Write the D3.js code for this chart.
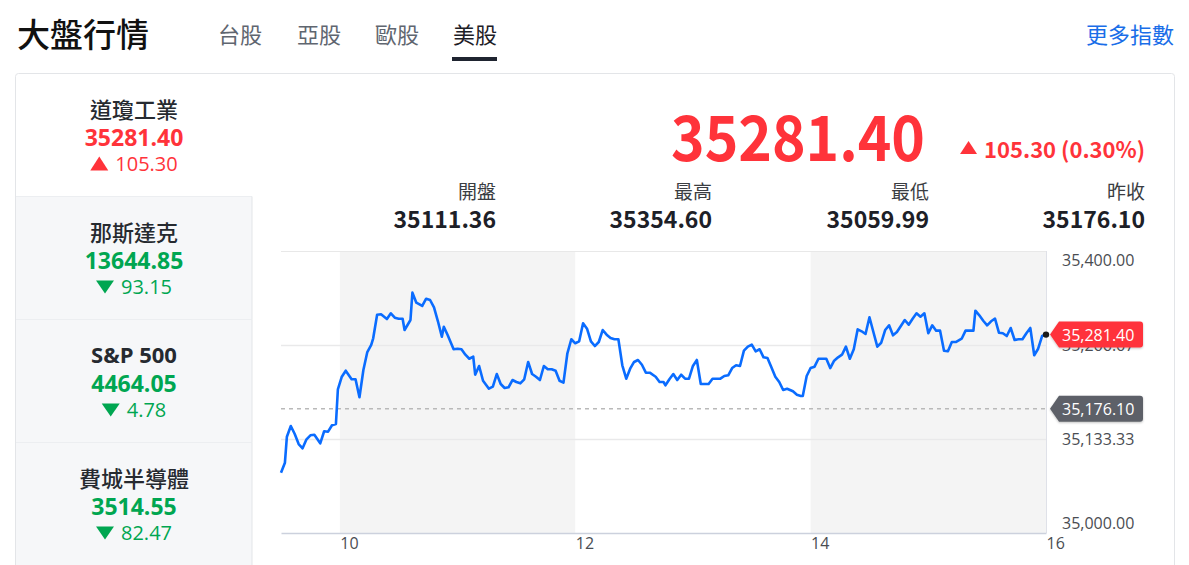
<!DOCTYPE html>
<html><head><meta charset="utf-8">
<script src="https://cdn.jsdelivr.net/npm/d3@7"></script>
<style>
html,body{margin:0;padding:0;background:#fff;}
svg{display:block;}
</style></head>
<body><svg id="c" width="1189" height="565"></svg>
<script>
// ---------- data ----------
const tabs = ["台股", "亞股", "歐股", "美股"];
const activeTab = "美股";
const indexNames = ["道瓊工業", "那斯達克", "S&P 500", "費城半導體"];
const indexValues = ["35281.40", "13644.85", "4464.05", "3514.55"];
const indexChanges = ["105.30", "93.15", "4.78", "82.47"];
const indexUp = [true, false, false, false];
const lastPrice = 35281.40;
const changeText = "105.30 (0.30%)";
const statLabels = ["開盤", "最高", "最低", "昨收"];
const statValues = ["35111.36", "35354.60", "35059.99", "35176.10"];
const prevClose = 35176.10;
const yTicks = [35000, 35133.33, 35266.67, 35400];
const xTickHours = [10, 12, 14, 16];
const bandHours = [[10, 12], [14, 16]];
// minutes after 09:30
const minutes = [0,2,3,5,7,9,11,13,15,17,20,22,24,26,28,29,31,33,36,38,40,42,44,46,47,49,51,54,56,58,60,62,63,66,67,69,72,74,76,78,80,82,83,85,88,90,92,94,96,98,
99,101,103,106,108,110,112,114,116,118,120,122,124,126,128,130,132,134,136,138,140,142,144,146,148,150,152,154,156,158,160,162,164,166,168,170,172,174,176,178,180,182,184,186,188,191,193,195,
196,198,200,202,204,206,208,210,212,214,216,218,220,222,224,226,228,230,232,234,236,238,240,242,244,246,248,250,252,254,256,258,261,263,265,266,268,270,272,274,276,278,280,282,284,286,288,
290,292,294,296,298,300,302,304,306,308,310,312,314,316,318,320,322,324,326,328,330,332,334,336,338,340,342,344,347,349,351,353,354,356,358,360,362,364,366,368,370,372,374,376,378,380,382,384,386,388,390];
const prices = [35085.5,35099.7,35136.6,35151.8,35140.4,35126.2,35120.1,35132.9,35138.6,35139.4,35127.2,35144.3,35143.7,35152.8,35154.6,35203.8,35221.7,35230.2,35218.0,35218.0,35192.5,35231.2,35256.7,35266.7,35276.2,35309.6,35310.2,35303.5,35311.6,35305.4,35304.0,35304.0,35287.9,35302.1,35340.9,35326.7,35322.0,35332.3,35330.5,35320.1,35300.3,35278.4,35292.6,35280.4,35260.6,35261.4,35260.6,35252.9,35247.2,35250.1,
35224.5,35236.9,35216.0,35204.7,35207.5,35225.5,35211.3,35205.7,35206.7,35217.0,35214.2,35212.3,35218.0,35242.6,35225.5,35221.7,35217.0,35236.9,35232.2,35232.2,35230.2,35216.0,35213.2,35254.9,35274.8,35269.1,35271.9,35297.4,35289.8,35271.9,35265.2,35270.9,35287.9,35281.3,35276.6,35274.8,35274.8,35237.9,35218.9,35233.1,35242.6,35245.4,35238.7,35227.4,35227.4,35221.7,35214.2,35214.2,
35209.5,35218.0,35225.5,35217.0,35224.5,35218.9,35218.9,35236.9,35245.4,35211.3,35211.3,35211.3,35218.9,35218.9,35218.9,35222.7,35223.7,35234.0,35237.9,35236.9,35258.6,35264.3,35267.1,35257.7,35260.6,35249.2,35248.2,35235.0,35221.7,35214.2,35202.8,35204.7,35201.0,35196.2,35194.3,35194.3,35222.7,35234.0,35235.9,35247.2,35247.2,35247.2,35234.0,35244.4,35249.2,35252.9,35264.3,
35247.2,35260.6,35288.9,35286.1,35282.3,35306.0,35285.1,35264.3,35269.9,35287.9,35294.6,35280.4,35285.1,35293.6,35302.1,35295.5,35304.0,35311.6,35306.8,35311.6,35283.3,35294.6,35287.0,35287.0,35258.6,35257.7,35270.9,35270.9,35275.6,35287.0,35287.0,35287.0,35315.3,35308.8,35301.1,35294.6,35300.3,35304.0,35284.1,35283.3,35279.4,35290.8,35273.8,35274.8,35274.8,35283.3,35290.8,35252.1,35261.4,35279.4,35281.4];

// ---------- styles ----------
const CJK = "'Noto Sans CJK TC','Noto Sans',sans-serif";
const LAT = "'Open Sans','Noto Sans',sans-serif";
const RED = "#ff333a", GREEN = "#00a651", BLUE = "#0a6cff";

const svg = d3.select("#c");

// ---------- header ----------
svg.append("text").attr("x", 17).attr("y", 33).attr("dominant-baseline", "central")
  .style("font-family", CJK).style("font-size", "33px").style("font-weight", 500).attr("fill", "#111")
  .text("大盤行情");
const tabX = [218, 297, 375, 453];
tabs.forEach((t, i) => {
  svg.append("text").attr("x", tabX[i]).attr("y", 33).attr("dominant-baseline", "central")
    .style("font-family", CJK).style("font-size", "22px")
    .attr("fill", t === activeTab ? "#1d2027" : "#5f6670").text(t);
  if (t === activeTab) svg.append("rect").attr("x", tabX[i] - 1).attr("y", 57).attr("width", 45).attr("height", 4).attr("fill", "#1f2430");
});
svg.append("text").attr("x", 1174).attr("y", 33).attr("dominant-baseline", "central").attr("text-anchor", "end")
  .style("font-family", CJK).style("font-size", "22px").attr("fill", "#1a6ee8").text("更多指數");

// card
svg.append("rect").attr("x", 15.5).attr("y", 73.5).attr("width", 1159).attr("height", 520).attr("rx", 3)
  .attr("fill", "#fff").attr("stroke", "#e3e5e8");

// ---------- left list ----------
const itemH = 123, itemTop = 73.5;
indexNames.forEach((n, i) => {
  const y0 = itemTop + i * itemH;
  const g = svg.append("g");
  if (i > 0) {
    g.append("rect").attr("x", 16).attr("y", y0).attr("width", 236).attr("height", itemH).attr("fill", "#f6f7f9");
    g.append("line").attr("x1", 252).attr("x2", 252).attr("y1", y0).attr("y2", y0 + itemH).attr("stroke", "#e3e5e8");
  }
  g.append("line").attr("x1", 16).attr("x2", 252).attr("y1", y0 + itemH).attr("y2", y0 + itemH).attr("stroke", "#e3e5e8");
  const col = indexUp[i] ? RED : GREEN;
  g.append("text").attr("x", 134).attr("y", y0 + 34).attr("text-anchor", "middle").attr("dominant-baseline", "central")
    .style("font-family", i === 2 ? LAT : CJK).style("font-size", "22px").style("font-weight", i === 2 ? 700 : 500)
    .attr("fill", "#262a30").text(n);
  g.append("text").attr("x", 134).attr("y", y0 + 63).attr("text-anchor", "middle").attr("dominant-baseline", "central")
    .style("font-family", LAT).style("font-size", "23px").style("font-weight", 700).attr("fill", col).text(indexValues[i]);
  const ct = g.append("text").attr("y", y0 + 90).attr("dominant-baseline", "central")
    .style("font-family", LAT).style("font-size", "20px").attr("fill", col).text(indexChanges[i]);
  const w = ct.node().getComputedTextLength();
  const triW = 18, gap = 7;
  const start = 134 - (triW + gap + w) / 2;
  ct.attr("x", start + triW + gap);
  const cy = y0 + 90;
  const tri = indexUp[i]
    ? [[start, cy + 7], [start + triW, cy + 7], [start + triW / 2, cy - 7]]
    : [[start, cy - 6], [start + triW, cy - 6], [start + triW / 2, cy + 7]];
  g.append("path").attr("d", d3.line()(tri) + "Z").attr("fill", col);
});

// ---------- price header ----------
svg.append("text").attr("x", 925).attr("y", 133).attr("text-anchor", "end").attr("dominant-baseline", "central")
  .style("font-family", CJK).style("font-size", "63px").style("font-weight", 700).attr("fill", RED)
  .attr("textLength", 254).attr("lengthAdjust", "spacingAndGlyphs")
  .text(lastPrice.toFixed(2));
const chg = svg.append("text").attr("x", 1145).attr("y", 148).attr("text-anchor", "end").attr("dominant-baseline", "central")
  .style("font-family", CJK).style("font-size", "22px").style("font-weight", 700).attr("fill", RED).text(changeText);
const cw = chg.node().getComputedTextLength();
const tx = 1145 - cw - 24;
svg.append("path").attr("d", d3.line()([[tx, 154], [tx + 17, 154], [tx + 8.5, 141]]) + "Z").attr("fill", RED);

const statX = [496, 712, 929, 1145];
statLabels.forEach((l, i) => {
  svg.append("text").attr("x", statX[i]).attr("y", 190).attr("text-anchor", "end").attr("dominant-baseline", "central")
    .style("font-family", CJK).style("font-size", "19px").attr("fill", "#3a3d42").text(l);
  svg.append("text").attr("x", statX[i]).attr("y", 218).attr("text-anchor", "end").attr("dominant-baseline", "central")
    .style("font-family", CJK).style("font-size", "23px").style("font-weight", 700).attr("fill", "#1d2027").text(statValues[i]);
});

// ---------- chart ----------
const day = (h, m) => new Date(2021, 7, 16, h, m);
const x = d3.scaleTime().domain([day(9, 30), day(16, 0)]).range([281, 1046]);
const y = d3.scaleLinear().domain([35000, 35400]).range([533, 251]);
const pts = minutes.map((m, i) => ({ t: day(9, 30 + m), v: prices[i] }));

const ch = svg.append("g");
bandHours.forEach(b => {
  ch.append("rect").attr("x", x(day(b[0], 0))).attr("y", y(35400)).attr("width", x(day(b[1], 0)) - x(day(b[0], 0)))
    .attr("height", y(35000) - y(35400)).attr("fill", "#f4f4f4");
});
// grid
yTicks.forEach(v => {
  if (v === 35000) return;
  ch.append("line").attr("x1", x.range()[0]).attr("x2", x.range()[1]).attr("y1", Math.round(y(v)) + 0.5).attr("y2", Math.round(y(v)) + 0.5)
    .attr("stroke", v === 35400 ? "#e8e8e8" : "#e9e9ea").attr("stroke-width", v === 35400 ? 1 : 1.5);
});
ch.append("line").attr("x1", 1046.5).attr("x2", 1046.5).attr("y1", y(35400)).attr("y2", y(35000)).attr("stroke", "#dfe1e8");
// x axis
const xAxis = d3.axisBottom(x).tickValues(xTickHours.map(h => day(h, 0))).tickFormat(d3.timeFormat("%-H")).tickSize(0).tickPadding(5);
const xg = ch.append("g").attr("transform", `translate(0,${y(35000)})`).call(xAxis);
xg.select(".domain").attr("stroke", "#ccd1dd").attr("stroke-width", 1.5);
xg.selectAll("text").attr("text-anchor", "start").attr("dx", 0).style("font-family", LAT).style("font-size", "16px").attr("fill", "#4a4d52");

// y labels
const yFmt = d3.format(",.2f");
yTicks.forEach(v => {
  let yy = y(v);
  if (v === 35400) yy += 9;
  if (v === 35000) yy -= 10;
  ch.append("text").attr("x", 1062).attr("y", yy).attr("dominant-baseline", "central")
    .style("font-family", LAT).style("font-size", "16px").attr("fill", "#4a4d52").text(yFmt(v));
});

// prev close dashed
ch.append("line").attr("x1", x.range()[0]).attr("x2", x.range()[1]).attr("y1", y(prevClose)).attr("y2", y(prevClose))
  .attr("stroke", "#b9b9b9").attr("stroke-width", 1.5).attr("stroke-dasharray", "4,4");

// line
ch.append("path").datum(pts).attr("d", d3.line().x(d => x(d.t)).y(d => y(d.v)))
  .attr("fill", "none").attr("stroke", BLUE).attr("stroke-width", 2.6).attr("stroke-linejoin", "round");
const last = pts[pts.length - 1];
ch.append("circle").attr("cx", x(last.t)).attr("cy", y(last.v)).attr("r", 3.2).attr("fill", "#1a1a1a");

// tags
const defs = svg.append("defs");
const f = defs.append("filter").attr("id", "sh").attr("x", "-20%").attr("y", "-30%").attr("width", "140%").attr("height", "160%");
f.append("feDropShadow").attr("dx", 0).attr("dy", 1).attr("stdDeviation", 1.2).attr("flood-color", "#000").attr("flood-opacity", 0.25);
function tag(v, color) {
  const cy = y(v), x0 = 1050, x1 = 1143, h = 13, r = 3;
  const p = `M${x0},${cy} L${x0 + 9},${cy - h} L${x1 - r},${cy - h} Q${x1},${cy - h} ${x1},${cy - h + r} L${x1},${cy + h - r} Q${x1},${cy + h} ${x1 - r},${cy + h} L${x0 + 9},${cy + h} Z`;
  ch.append("path").attr("d", p).attr("fill", color).attr("filter", "url(#sh)");
  ch.append("text").attr("x", 1062).attr("y", cy).attr("dominant-baseline", "central")
    .style("font-family", LAT).style("font-size", "16px").attr("fill", "#fff").text(yFmt(v));
}
tag(lastPrice, RED);
tag(prevClose, "#5d6168");
</script></body></html>
